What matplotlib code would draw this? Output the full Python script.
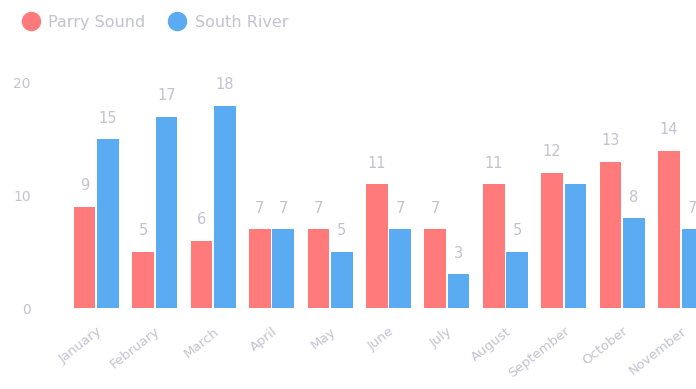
import matplotlib.pyplot as plt
from matplotlib.lines import Line2D
import numpy as np

# data
months = ['January', 'February', 'March', 'April', 'May', 'June', 'July',
          'August', 'September', 'October', 'November']
parry_sound = [9, 5, 6, 7, 7, 11, 7, 11, 12, 13, 14]
south_river = [15, 17, 18, 7, 5, 7, 3, 5, 11, 8, 7]
# the September value of South River has no label in the chart
south_river_labels = ['15', '17', '18', '7', '5', '7', '3', '5', '', '8', '7']

red = '#ff7b7b'
blue = '#5aabf2'
text_col = '#c2c2d2'

W, H = 696, 389
fig = plt.figure(figsize=(W / 100, H / 100), dpi=100)
# plot area runs past the right edge (chart is cropped)
ax = fig.add_axes([67 / W, 81 / H, 643 / W, 225 / H])

x = np.arange(len(months))
bw = 0.37
b1 = ax.bar(x - bw / 2 - 0.015, parry_sound, bw, color=red)
b2 = ax.bar(x + bw / 2 + 0.015, south_river, bw, color=blue)

for rect, v in zip(b1, parry_sound):
    ax.text(rect.get_x() + rect.get_width() / 2, v + 1.2, str(v),
            ha='center', va='bottom', fontsize=10.5, color=text_col, clip_on=False)
for rect, lab in zip(b2, south_river_labels):
    if lab:
        ax.text(rect.get_x() + rect.get_width() / 2, rect.get_height() + 1.2, lab,
                ha='center', va='bottom', fontsize=10.5, color=text_col, clip_on=False)

ax.set_xlim(-0.5, 10.5)
ax.set_ylim(0, 20)
ax.set_yticks([0, 10, 20])
ax.tick_params(axis='y', length=0, labelsize=10, labelcolor=text_col, pad=26)
ax.set_xticks(x)
ax.set_xticklabels(months, rotation=38, ha='right', rotation_mode='anchor')
ax.tick_params(axis='x', length=0, labelsize=9.5, labelcolor=text_col, pad=12)
for s in ax.spines.values():
    s.set_visible(False)

handles = [Line2D([], [], marker='o', linestyle='', markersize=13, color=red),
           Line2D([], [], marker='o', linestyle='', markersize=13, color=blue)]
fig.legend(handles, ['Parry Sound', 'South River'], loc='upper left',
           bbox_to_anchor=(0.005, 0.99), ncol=2, frameon=False, fontsize=11.5,
           labelcolor=text_col, handletextpad=0.1, columnspacing=1.0,
           borderaxespad=0.3)

fig.savefig('out.png', dpi=100)
